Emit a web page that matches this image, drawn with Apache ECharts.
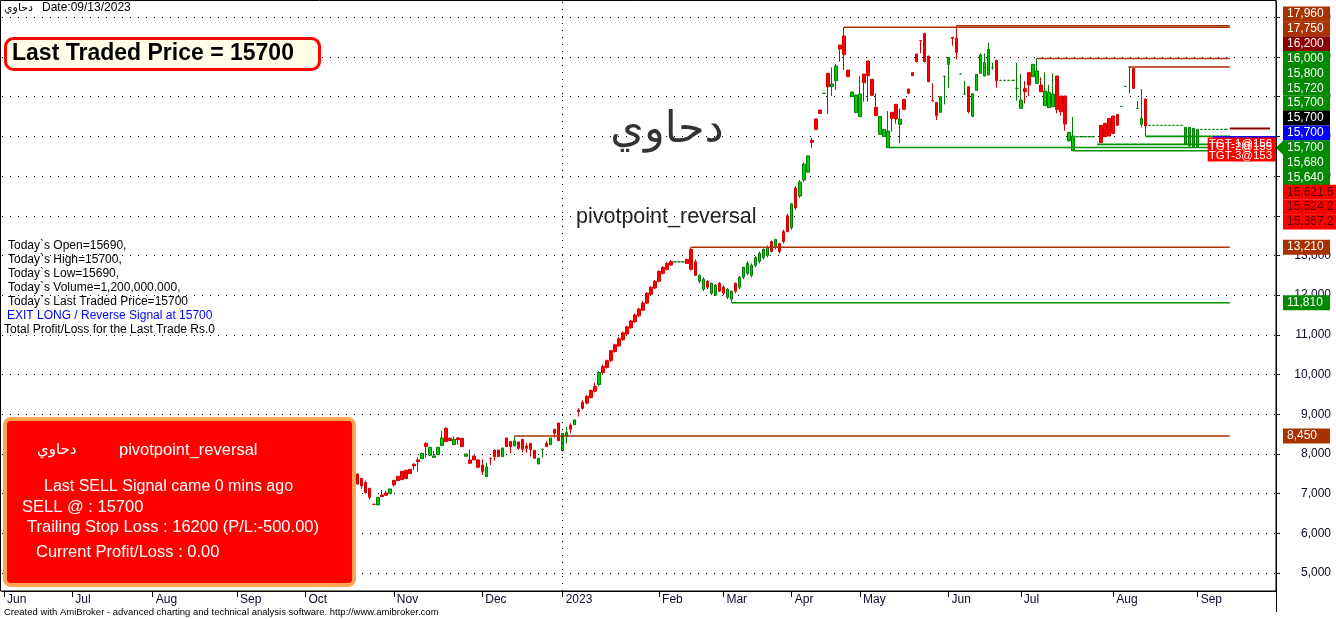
<!DOCTYPE html>
<html><head><meta charset="utf-8">
<script src="https://cdn.jsdelivr.net/npm/echarts@6/dist/echarts.min.js"></script>
<style>html,body{margin:0;padding:0;background:#fff;overflow:hidden}#c{width:1336px;height:619px}</style>
</head><body><div id="c"></div>
<script>
// ---------- data ----------
const FIRST_BAR = 88;          // earlier bars are hidden behind the signal box
const TOTAL_SLOTS = 317;       // bar slots across the plot (incl. blank right margin)
const LEVEL_END_BAR = 305;
const monthLabels = ['Jun','Jul','Aug','Sep','Oct','Nov','Dec','2023','Feb','Mar','Apr','May','Jun','Jul','Aug','Sep'];
const monthStartBars = [0,17,37,58,75,97,119,139,163,179,196,213,235,253,276,297];
const yTickValues = [5000,6000,7000,8000,9000,10000,11000,12000,13000,14000,15000,16000,17000,18000,19000];

const barTone = [
 'r','r','r','r','r','g','r','r','g','r',
 'r','r','r','r','r','r','g','r','g','g',
 'g','g','r','r','g','r','r','g','r','r',
 'r','r','g','r','r','r','g','r','r','g',
 'r','r','r','r','r','g','g','r','g','r',
 'r','g','g','r','g','r',
 'r','r','r','r','g','r','r','r','r','r',
 'r','r','r','r','r','r','r','r','r','r',
 'r','r','r','g','g','g','r','r','r','g',
 'g','r','g','g','r','r','g','g','r',
 'g','g','g','g','g','g','g','g','r','g',
 'r','r','r','g','r','g','g',
 'g','r','r','r','g','r','g','g','r','r',
 'r','g','g','g','r','r','r','r','g','g',
 'g','r','r','g','r','r','r','r','r','r',
 'r','r','r','g','g','g','r','r','g','g',
 'r','g','g','g','g','g','g','r','g','g',
 'g','g','g','g','r','r','g','g','r','g',
 'g','g','r','r','r','g','g','g','g','g',
 'g','g','', 'r','r','r','r','r','g','g',
 'r','r','g','g','r','g','g','g','g','g',
 'g','g','g','g','g','g','g','g','g','g',
 'g','g','g','g','g'];
const barOpen = [
 7243,7193,7025,6907,6731,6907,6924,6958,7117,7218,
 7327,7352,7378,7504,7697,7806,8016,8184,8167,7949,
 8167,8402,8310,8335,8369,8360,8184,8000,7764,7848,
 7663,7554,7672,7890,7932,7932,8142,8184,8184,8327,
 8142,8117,8142,8108,7890,7890,8117,8184,8402,8520,
 8335,8520,8537,8621,8856,9066,
 9150,9280,9420,9580,10050,10050,10180,10350,10580,10720,
 10880,11020,11180,11330,11480,11620,11800,12020,12180,12350,
 12550,12650,12760,12840,12840,12840,12800,12650,12500,12500,
 12400,12200,12300,12250,12100,12050,12150,12100,12100,
 12450,12700,12800,12750,12950,13050,13150,13200,13100,13400,
 13100,13350,13600,14300,14200,14850,15300,
 15507,15850,16177,16580,17084,17252,17319,17773,18201,18058,
 17504,17118,17042,17067,17353,17529,17034,16521,16504,16177,
 16135,16454,16438,16437,16681,17084,17529,17882,18411,17882,
 17378,16899,16521,17000,17513,17991,18470,18117,17571,17067,
 16622,17076,17563,18050,17857,18193,17731,17403,17412,17412,
 17412,17412,17210,16916,17126,17294,17815,17647,17126,17143,
 17109,17067,16681,16622,16311,16101,16009,15992,15992,15992,
 15992,15992,null,15841,15992,16009,16076,16278,16756,17260,
 17739,17210,16706,16454,16261,16278,16278,16278,16278,16278,
 16278,16278,16278,16278,16227,16227,16202,16177,16177,16177,
 16177,16177,16177,16177,16177];
const barClose = [
 7495,7386,7277,7134,6731,6714,6966,7016,6999,7336,
 7436,7562,7588,7613,7739,7848,7882,8268,7966,7915,
 7982,8209,8646,8394,8234,8402,8394,7940,7848,7949,
 7848,7722,7428,7890,8100,8100,7932,8402,8310,8201,
 8302,8369,8201,8268,8092,7747,8117,8268,8234,8621,
 8780,8083,8436,8722,8738,9108,
 9300,9450,9600,9700,9750,10200,10350,10600,10750,10900,
 11050,11200,11350,11500,11650,11800,12050,12200,12350,12600,
 12700,12800,12850,12840,12840,12840,12900,13150,12840,12350,
 12150,12350,12050,12000,12300,12200,11950,11900,12300,
 12200,12450,12550,12500,12750,12850,12950,13000,13350,13200,
 13300,13600,14000,13700,14700,14500,14900,
 15100,15900,16438,16664,17084,17588,17252,17403,18302,18529,
 17672,17000,16597,16496,17571,17899,17437,16731,16051,15992,
 15715,16606,16807,16303,16933,17193,17605,18075,18411,18596,
 18025,16899,16857,16605,17513,17815,18495,18470,17571,17067,
 17252,16504,17160,17588,17521,17546,17731,17916,17412,17412,
 17412,17412,17210,16706,17201,17605,17504,17336,17294,16773,
 16723,16748,17521,17017,17017,15891,15640,15992,15992,15992,
 15992,15992,null,16278,16328,16454,16513,16555,16756,17260,
 17739,17714,16706,16303,16941,16278,16278,16278,16278,16278,
 16278,16278,16278,16278,15808,15757,15740,15740,16177,16177,
 16177,16177,16177,16177,16177];
const barLow = [
 7220,7120,7008,6857,6731,6714,6924,6958,6999,7176,
 7327,7352,7378,7504,7596,7554,7882,7907,7966,7915,
 7982,8209,8310,8335,8234,8234,8184,7940,7747,7848,
 7638,7470,7428,7722,7831,7932,7932,8184,8016,8201,
 8108,8033,8033,7932,7890,7747,7907,8184,8234,8411,
 8327,8083,8260,8520,8738,8940,
 9120,9250,9400,9550,9700,10000,10150,10320,10550,10700,
 10850,11000,11150,11300,11450,11600,11780,12000,12150,12330,
 12520,12620,12740,12840,12840,12840,12780,12620,12480,12300,
 12100,12150,12000,11980,12080,12000,11900,11810,12050,
 12150,12400,12500,12450,12700,12800,12900,12950,13080,13150,
 13050,13300,13580,13650,14150,14450,14850,
 15080,15714,16177,16580,17084,16563,17017,17168,17882,17672,
 17504,17000,16597,16496,16874,16874,17017,16521,16051,15992,
 15715,16118,16320,15824,16681,17084,17529,17882,18092,17882,
 17378,16874,16412,16605,16807,17227,18285,17941,17571,17067,
 16580,16504,17160,17588,17521,17546,17680,17227,17412,17412,
 17412,17412,16899,16706,16832,17017,17504,17336,17126,16773,
 16723,16748,16580,16521,16143,15866,15640,15992,15992,15992,
 15992,15992,null,15841,15992,16009,16076,16278,16756,17260,
 17084,17210,16706,16227,16009,16278,16278,16278,16278,16278,
 16278,16278,16278,16278,15808,15757,15740,15740,16177,16177,
 16177,16177,16177,16177,16177];
const barHigh = [
 7500,7386,7327,7134,6731,6907,7092,7067,7117,7336,
 7436,7562,7588,7613,7764,7915,8016,8285,8167,8075,
 8167,8579,8671,8420,8444,8428,8394,8000,8117,7949,
 7865,7865,7772,7890,8100,8100,8167,8402,8310,8450,
 8302,8369,8276,8268,8092,7890,8117,8327,8402,8621,
 8780,8520,8688,8772,8856,9150,
 9350,9480,9620,9800,10080,10250,10380,10620,10780,10950,
 11080,11230,11380,11540,11680,11850,12080,12230,12380,12620,
 12730,12830,12880,12840,12840,12840,12920,13210,12900,12520,
 12450,12380,12320,12280,12330,12250,12180,12120,12320,
 12480,12720,12850,12800,12980,13100,13180,13250,13380,13420,
 13320,13650,14050,14320,14750,14900,15350,
 15520,15966,16438,16664,17084,17588,17739,17823,18302,18748,
 17672,17118,17042,17521,17571,17899,17437,17084,16504,16177,
 16639,16606,16807,16706,16933,17193,17605,18075,18411,18596,
 18025,17336,16857,17000,17513,17991,18495,18790,17571,17403,
 17252,17076,17563,18092,18092,18361,17857,17916,17412,17412,
 17412,17412,17857,17571,17395,17630,17815,17966,17487,17613,
 17294,17588,17521,17017,17017,16101,16488,15992,15992,15992,
 15992,15992,null,16278,16328,16454,16513,16555,16756,17260,
 17739,17714,16891,17193,16941,16278,16278,16278,16278,16278,
 16278,16278,16278,16278,16227,16227,16202,16177,16177,16177,
 16177,16177,16177,16177,16177];

const resistanceLevels = [8450,13210,18748,18790,17960,17750];
const resistanceStartBars = [127,171,209,237,257,280];
const supportLevels = [11810,15720,15640,15800,16000];
const supportStartBars = [181,220,266,272,284];
const trailingStop = 16200;
const yearStartBar = 139;

const clusterTagTexts = ['17,960','17,750','16,200','16,000','15,800','15,720','15,700','15,700','15,700','15,700','15,680','15,640','15,621.5','15,524.2','15,367.2'];
const clusterTagKinds = ['res','res','stop','sup','sup','sup','sup','last','blue','arrow','sup','sup','tgt','tgt','tgt'];
const sideTagValues = [13210,11810,8450];
const sideTagKinds = ['res','sup','res'];

const infoLines = ['Today`s Open=15690,','Today`s High=15700,','Today`s Low=15690,','Today`s Volume=1,200,000.000,','Today`s Last Traded Price=15700'];

// ---------- chart ----------
const Y_MIN = 4546.5, Y_MAX = 19411;
const categories = [];
for (let i = 0; i < TOTAL_SLOTS; i++) categories.push(String(i));
const redData = [], greenData = [];
for (let i = 0; i < TOTAL_SLOTS; i++) {
  const k = i - FIRST_BAR;
  if (k < 0 || k >= barOpen.length || barOpen[k] == null) { redData.push('-'); greenData.push('-'); continue; }
  const item = [barOpen[k], barClose[k], barLow[k], barHigh[k]];
  if (barTone[k] === 'r') { redData.push(item); greenData.push('-'); }
  else { greenData.push(item); redData.push('-'); }
}
const BROWN = '#a83200', GREEN = '#009000', DARKRED = '#8b0000';
const levelSeries = [];
resistanceLevels.forEach((v, j) => levelSeries.push({type:'line', data:[[resistanceStartBars[j], v],[LEVEL_END_BAR, v]], symbol:'none', silent:true, z:4, lineStyle:{color:BROWN, width:1.5}}));
supportLevels.forEach((v, j) => levelSeries.push({type:'line', data:[[supportStartBars[j], v],[LEVEL_END_BAR, v]], symbol:'none', silent:true, z:4, lineStyle:{color:GREEN, width:1.6}}));
levelSeries.push({type:'line', data:[[LEVEL_END_BAR, trailingStop],[TOTAL_SLOTS-2, trailingStop]], symbol:'none', silent:true, z:4, lineStyle:{color:DARKRED, width:2}});

const chart = echarts.init(document.getElementById('c'), null, {renderer:'canvas', width:1336, height:619});
const isMonth = (i) => monthStartBars.indexOf(i) >= 0;
chart.setOption({
  animation:false,
  backgroundColor:'#ffffff',
  grid:{left:2, right:60, top:1, bottom:28, containLabel:false},
  xAxis:{type:'category', data:categories, boundaryGap:true,
    axisLine:{show:true, lineStyle:{color:'#000', width:1}},
    axisTick:{show:true, alignWithLabel:true, interval:(i)=>isMonth(i), length:6, lineStyle:{color:'#000'}},
    axisLabel:{show:true, interval:(i)=>isMonth(i), formatter:(v,i)=>monthLabels[monthStartBars.indexOf(i)] || '', align:'left', padding:[0,0,0,3], margin:3, color:'#0a0a28', fontSize:12, fontFamily:'"Liberation Sans", Arial, sans-serif'},
    splitLine:{show:false}},
  yAxis:{type:'value', position:'right', min:Y_MIN, max:Y_MAX,
    axisLine:{show:true, onZero:false, lineStyle:{color:'#000', width:1}},
    axisTick:{show:true, length:4, customValues:yTickValues, lineStyle:{color:'#000'}},
    axisLabel:{customValues:yTickValues, formatter:(v)=>Number(v).toLocaleString('en-US'), color:'#0a0a28', fontSize:12, fontFamily:'"Liberation Sans", Arial, sans-serif', align:'right', margin:55},
    splitLine:{show:true, lineStyle:{color:'#000', type:[1,7], width:1}}},
  series:[
    {type:'candlestick', data:redData, barWidth:3, z:3, silent:true,
     itemStyle:{color:'#ff0000', color0:'#ff0000', borderColor:'#d40000', borderColor0:'#d40000', borderWidth:1},
     markLine:{silent:true, symbol:'none', label:{show:false}, lineStyle:{color:'#000', type:[1,6], width:1}, data:[{xAxis:yearStartBar}]}},
    {type:'candlestick', data:greenData, barWidth:3, z:3, silent:true,
     itemStyle:{color:'#00d000', color0:'#00d000', borderColor:'#007a00', borderColor0:'#007a00', borderWidth:1}}
  ].concat(levelSeries)
});

// ---------- annotations ----------
const FONT = '"Liberation Sans", Arial, sans-serif';
const g = [];
function txt(x, y, text, st) { g.push({type:'text', x:x, y:y, z:101, silent:true, style:Object.assign({text:text, fill:'#000', font:'12px ' + FONT, align:'left', verticalAlign:'middle'}, st || {})}); }
function box(x, y, w, h, st, r, z) { g.push({type:'rect', z:z || 100, silent:true, shape:{x:x, y:y, width:w, height:h, r:r || 0}, style:st}); }
const py = (v) => chart.convertToPixel({yAxisIndex:0}, v);
const px = (i) => chart.convertToPixel({xAxisIndex:0}, i);

// frame
box(0.5, 0.5, 1275.5, 590.5, {fill:'none', stroke:'#000', lineWidth:1}, 0, 90);
g.push({type:'line', z:90, silent:true, shape:{x1:1276.5, y1:590, x2:1276.5, y2:612}, style:{stroke:'#000', lineWidth:1}});

// header
txt(4, 8, 'دحاوي', {font:'11px "DejaVu Sans"'});
txt(42, 8, 'Date:09/13/2023', {font:'12px ' + FONT});
box(5.5, 38.5, 314, 31, {fill:'#ffffe8', stroke:'#ff0000', lineWidth:3}, 8);
txt(12, 54, 'Last Traded Price = 15700', {font:'bold 23px ' + FONT, fill:'#000'});

// titles
txt(667, 131, 'دحاوي', {font:'43px "DejaVu Sans"', fill:'#333', align:'center'});
txt(576, 217, 'pivotpoint_reversal', {font:'21.5px ' + FONT, fill:'#222'});

// info block
infoLines.forEach((s, k) => txt(8, 246 + 14 * k, s));
txt(7, 316, 'EXIT LONG / Reverse Signal at 15700', {fill:'#0000ff'});
txt(4, 330, 'Total Profit/Loss for the Last Trade Rs.0');

// signal box
box(5, 419, 349, 166, {fill:'#ff0000', stroke:'#ffa552', lineWidth:4}, 6);
txt(37, 450, 'دحاوي', {font:'15px "DejaVu Sans"', fill:'#fff'});
txt(119, 450, 'pivotpoint_reversal', {font:'16.5px ' + FONT, fill:'#fff'});
txt(44, 487, 'Last SELL Signal came 0 mins ago', {font:'16px ' + FONT, fill:'#fff'});
txt(22, 507, 'SELL @ : 15700', {font:'16.5px ' + FONT, fill:'#fff'});
txt(27, 527, 'Trailing Stop Loss : 16200 (P/L:-500.00)', {font:'16.5px ' + FONT, fill:'#fff'});
txt(36, 552, 'Current Profit/Loss : 0.00', {font:'16.5px ' + FONT, fill:'#fff'});

// credit
txt(4, 612, 'Created with AmiBroker - advanced charting and technical analysis software. http://www.amibroker.com', {font:'9.5px ' + FONT});

// target box + blue last-price band in plot
const tx = px(300) - 2, tTop = py(15975), tBot = py(15370);
box(px(301) - 1, py(16010), 1276 - px(301) + 1, py(15930) - py(16010), {fill:'#0000ff'}, 0, 100);
box(tx, tTop, 1276 - tx, tBot - tTop, {fill:'#ff0000'}, 0, 100);
const tgtStyle = {font:'11.5px ' + FONT, fill:'#fff', width:1277 - tx, overflow:'truncate', ellipsis:''};
txt(tx + 1, tTop + 6, 'TGT-1@15621.5', tgtStyle);
txt(tx + 1, tTop + 9, 'TGT-2@15524.2', tgtStyle);
txt(tx + 1, tTop + 18, 'TGT-3@15367.2', tgtStyle);

// right value tags
const kindFill = {res:BROWN, stop:DARKRED, sup:'#008a00', last:'#000000', blue:'#0000ff', arrow:'#008a00', tgt:'#ff0000'};
function tag(y, text, kind) {
  const w = kind === 'tgt' ? 53 : 47;
  box(1283, y - 7.5, w, 15, {fill:kindFill[kind]}, 0, 102);
  if (kind === 'arrow') g.push({type:'polygon', z:102, silent:true, shape:{points:[[1276, y],[1283, y - 7],[1283, y + 7]]}, style:{fill:kindFill[kind]}});
  g.push({type:'text', x:1287, y:y, z:103, silent:true, style:{text:text, fill: kind === 'tgt' ? '#500000' : '#ffffff', font:'12px ' + FONT, align:'left', verticalAlign:'middle'}});
}
clusterTagTexts.forEach((s, k) => tag(14 + k * 14.86, s, clusterTagKinds[k]));
sideTagValues.forEach((v, k) => tag(py(v), v.toLocaleString('en-US'), sideTagKinds[k]));

chart.setOption({graphic:{elements:g}});
</script>
</body></html>
